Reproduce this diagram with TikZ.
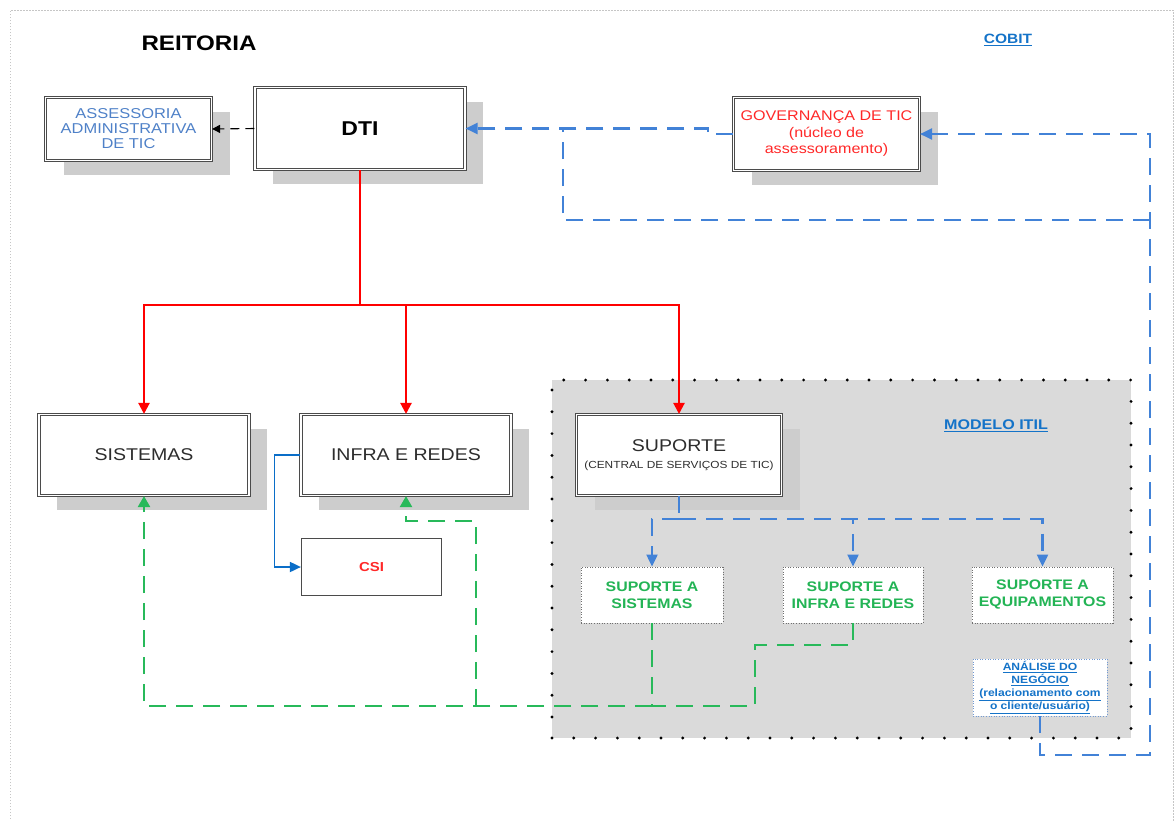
\documentclass[tikz,border=0pt]{standalone}
\usepackage{fontspec}
\setmainfont{Liberation Sans}[FakeStretch=1.15]
\usetikzlibrary{arrows.meta,shadows}

\definecolor{boxline}{RGB}{75,75,75}
\definecolor{shade}{RGB}{205,205,205}
\definecolor{itilfill}{RGB}{218,218,218}
\definecolor{softblue}{RGB}{79,129,200}
\definecolor{linkblue}{RGB}{20,115,200}
\definecolor{dashblue}{RGB}{66,130,215}
\definecolor{solidblue}{RGB}{10,110,200}
\definecolor{alertred}{RGB}{255,40,40}
\definecolor{leafgreen}{RGB}{35,180,85}
\definecolor{dashgreen}{RGB}{40,185,90}
\definecolor{darktext}{RGB}{45,45,45}

\begin{document}
\begin{tikzpicture}[x=1pt,y=-1pt,
  dbox/.style={draw=boxline, double=white, double distance=1.7pt, line width=1.1pt,
    fill=white, inner sep=0pt, align=center,
    drop shadow={shadow xshift=18pt, shadow yshift=-14pt, fill=shade, opacity=1}},
  sbox/.style={draw=boxline, line width=1.2pt, fill=white, inner sep=0pt, align=center},
  pbox/.style={draw=boxline!80, line width=0.9pt, dash pattern=on 1pt off 1.6pt,
    fill=white, inner sep=0pt, align=center, text=leafgreen,
    font=\fontsize{13.8}{17}\selectfont\bfseries},
  abox/.style={draw=softblue!80, line width=0.9pt, dash pattern=on 1pt off 1.6pt,
    fill=white, inner sep=0pt, align=center, text=linkblue,
    font=\fontsize{10.5}{13}\selectfont\bfseries},
  itilbox/.style={fill=itilfill, draw=black, line width=3.2pt, line cap=round,
    dash pattern=on 0pt off 21.8pt},
  redline/.style={draw=red, line width=2.2pt},
  redarrow/.style={redline, -{Triangle[width=11pt,length=11pt]}},
  bluedash/.style={draw=dashblue, line width=2.2pt, dash pattern=on 17pt off 10pt},
  bluearrow/.style={bluedash, -{Triangle[width=11pt,length=12pt]}},
  greendash/.style={draw=dashgreen, line width=2.2pt, dash pattern=on 17pt off 10pt},
  greenarrow/.style={greendash, -{Triangle[width=12pt,length=11pt]}},
  lbl/.style={inner sep=0pt, align=center}
]
\useasboundingbox (0,0) rectangle (1176,820);
\clip (0,0) rectangle (1176,820);

% page frame
\draw[gray!45, line width=0.8pt, dash pattern=on 1.5pt off 1.5pt]
  (10,840) -- (10,10) -- (1173,10) -- (1173,840);

% ITIL region
\node[itilbox, minimum width=579pt, minimum height=358pt] (itil) at (841.5,559) {};

% headings
\node[lbl, font=\fontsize{21}{24}\selectfont\bfseries] (reitoria) at (199,43) {REITORIA};
\node[lbl, text=linkblue, font=\fontsize{13.5}{15}\selectfont\bfseries] (cobit) at (1008,40) {\underline{COBIT}};
\node[lbl, text=linkblue, font=\fontsize{14}{16}\selectfont\bfseries] (itiltitle) at (996,426) {\underline{MODELO ITIL}};

% top level
\node[dbox, minimum width=166pt, minimum height=63pt, text=softblue,
  font=\fontsize{14.3}{15}\selectfont] (assess) at (128.5,129)
  {ASSESSORIA\\ADMINISTRATIVA\\DE TIC};
\node[dbox, minimum width=210pt, minimum height=82pt,
  font=\fontsize{20}{22}\selectfont\bfseries] (dti) at (360,128.5) {DTI};
\node[dbox, minimum width=186pt, minimum height=73pt, text=alertred,
  font=\fontsize{14}{16.5}\selectfont] (gov) at (826.5,134)
  {GOVERNANÇA DE TIC\\(núcleo de\\assessoramento)};

% second level
\node[dbox, minimum width=210pt, minimum height=81pt, text=darktext,
  font=\fontsize{17}{20}\selectfont] (sist) at (144,455) {SISTEMAS};
\node[dbox, minimum width=210pt, minimum height=81pt, text=darktext,
  font=\fontsize{17}{20}\selectfont] (infra) at (406,455) {INFRA E REDES};
\node[dbox, minimum width=205pt, minimum height=81pt, text=darktext] (sup) at (679,455)
  {{\fontsize{17}{20}\selectfont SUPORTE}\\[5pt]{\fontsize{10.3}{12}\selectfont (CENTRAL DE SERVIÇOS DE TIC)}};
\node[sbox, minimum width=140pt, minimum height=57pt, text=alertred,
  font=\fontsize{13}{15}\selectfont\bfseries] (csi) at (371.5,567) {CSI};

% support units
\node[pbox, minimum width=142pt, minimum height=56pt] (s1) at (652,595) {SUPORTE A\\SISTEMAS};
\node[pbox, minimum width=140pt, minimum height=56pt] (s2) at (853,595) {SUPORTE A\\INFRA E REDES};
\node[pbox, minimum width=141pt, minimum height=56pt] (s3) at (1042.5,595) {SUPORTE A\\EQUIPAMENTOS};
\node[abox, minimum width=134pt, minimum height=57pt] (an) at (1040,687.5)
  {\underline{ANÁLISE DO}\\\underline{NEGÓCIO}\\\underline{(relacionamento com}\\\underline{o cliente/usuário)}};

% DTI to its units
\coordinate (rj) at (360,305);
\draw[redline] (dti.south) -- (rj);
\draw[redarrow] (rj) -| (sist.north);
\draw[redarrow] (rj) -| (infra.north);
\draw[redarrow] (rj) -| (sup.north);

% DTI to advisory
\draw[draw=black, line width=1.1pt, dash pattern=on 9pt off 6pt,
  -{Triangle[width=8pt,length=8pt]}] (dti.west) -- (assess.east);

% INFRA to CSI
\draw[draw=solidblue, line width=1.8pt, -{Triangle[width=10pt,length=11pt]}]
  (infra.west) -- ++(-26,0) |- (csi.west);

% governance feedback
\draw[bluearrow] (gov.west) -- ++(-25,0) |- (dti.east);
\coordinate (bj) at (563,128.5);
\coordinate (br) at (1150,220);
\draw[bluedash] (br) -| (bj);
\draw[bluearrow] (an.south) |- (1150,755) -- (1150,134) -- (gov.east);

% SUPORTE to support units
\coordinate (sj) at (679,519);
\draw[bluedash] (sup.south) -- (sj);
\draw[bluearrow] (sj) -| (s1.north);
\draw[bluearrow] (sj) -| (s2.north);
\draw[bluearrow] (sj) -| (s3.north);

% support units back to areas
\coordinate (gj) at (652,706);
\coordinate (gb) at (476,706);
\draw[greendash] (s1.south) -- (gj);
\draw[greenarrow] (gj) -| (sist.south);
\draw[greenarrow] (gb) -- (476,521) -| (infra.south);
\draw[greendash] (s2.south) |- (755,645) |- (gj);
\end{tikzpicture}
\end{document}
